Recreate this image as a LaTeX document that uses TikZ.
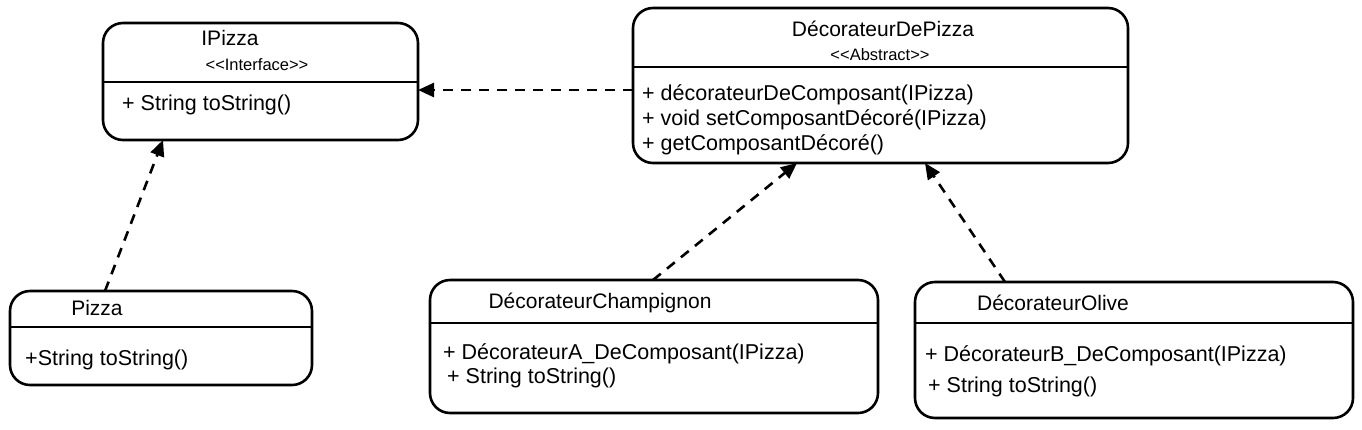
\documentclass[tikz,border=0pt]{standalone}
\usepackage{fontspec}
\setmainfont{Liberation Sans}
\usepackage{tikz}
\usetikzlibrary{positioning, calc, arrows.meta}

\begin{document}
\begin{tikzpicture}[x=1pt, y=-1pt,
	classbox/.style={draw, line width=2.6pt, rounded corners=20pt, outer sep=0pt, inner sep=0pt},
	divider/.style={line width=2.6pt},
	title/.style={inner sep=0pt, font=\fontsize{21}{25}\selectfont},
	stereo/.style={inner sep=0pt, font=\fontsize{16.5}{19}\selectfont},
	method/.style={anchor=west, inner sep=0pt, font=\fontsize{21.5}{25}\selectfont},
	realise/.style={line width=2.6pt, dash pattern=on 10pt off 8pt, -{Triangle[length=16pt, width=14pt]}}]
					\useasboundingbox (0,0) rectangle (1362,429);
					
					\node [classbox, minimum width=315pt, minimum height=117pt] (ipizza) at (260.5,81.5) {};
					\draw [divider] ([yshift=-0.5pt]ipizza.west) -- ([yshift=-0.5pt]ipizza.east);
					\node [title] (ipizzaname) at (230,38) {IPizza};
					\node [stereo] (ipizzastereo) at (257,65) {<{}<Interface>{}>};
					\node [method] (ipizzam1) at (122,105) {+ String toString()};
					
					\node [classbox, minimum width=495pt, minimum height=155pt] (decopizza) at (880.5,85.5) {};
					\draw [divider] ([yshift=18.5pt]decopizza.west) -- ([yshift=18.5pt]decopizza.east);
					\node [title] (deconame) at (883,29) {DécorateurDePizza};
					\node [stereo] (decostereo) at (880,55) {<{}<Abstract>{}>};
					\node [method] (decom1) at (642,95) {+ décorateurDeComposant(IPizza)};
					\node [method] (decom2) at (642,120) {+ void setComposantDécoré(IPizza)};
					\node [method] (decom3) at (642,145) {+ getComposantDécoré()};
					
					\node [classbox, minimum width=302pt, minimum height=94pt] (pizza) at (161,338) {};
					\draw [divider] ([yshift=11pt]pizza.west) -- ([yshift=11pt]pizza.east);
					\node [title] (pizzaname) at (97,308) {Pizza};
					\node [method] (pizzam1) at (25,360) {+String toString()};
					
					\node [classbox, minimum width=448pt, minimum height=133pt] (champ) at (654,346.5) {};
					\draw [divider] ([yshift=23.5pt]champ.west) -- ([yshift=23.5pt]champ.east);
					\node [title] (champname) at (600,303) {DécorateurChampignon};
					\node [method] (champm1) at (443,354) {+ DécorateurA\_DeComposant(IPizza)};
					\node [method] (champm2) at (447,378) {+ String toString()};
					
					\node [classbox, minimum width=438pt, minimum height=136pt] (olive) at (1134,350) {};
					\draw [divider] ([yshift=27pt]olive.west) -- ([yshift=27pt]olive.east);
					\node [title] (olivename) at (1053,303) {DécorateurOlive};
					\node [method] (olivem1) at (925,356) {+ DécorateurB\_DeComposant(IPizza)};
					\node [method] (olivem2) at (928,387) {+ String toString()};
					
					\draw [realise] ([yshift=-4.5pt]decopizza.west) -- ([yshift=-8.5pt]ipizza.east);
					\draw [realise] ([xshift=-56pt]pizza.north) -- ([xshift=-97.5pt]ipizza.south);
					\draw [realise] ([xshift=-1pt]champ.north) -- ([xshift=-83.5pt]decopizza.south);
					\draw [realise] ([xshift=-129pt]olive.north) -- ([xshift=44.5pt]decopizza.south);
\end{tikzpicture}
\end{document}
